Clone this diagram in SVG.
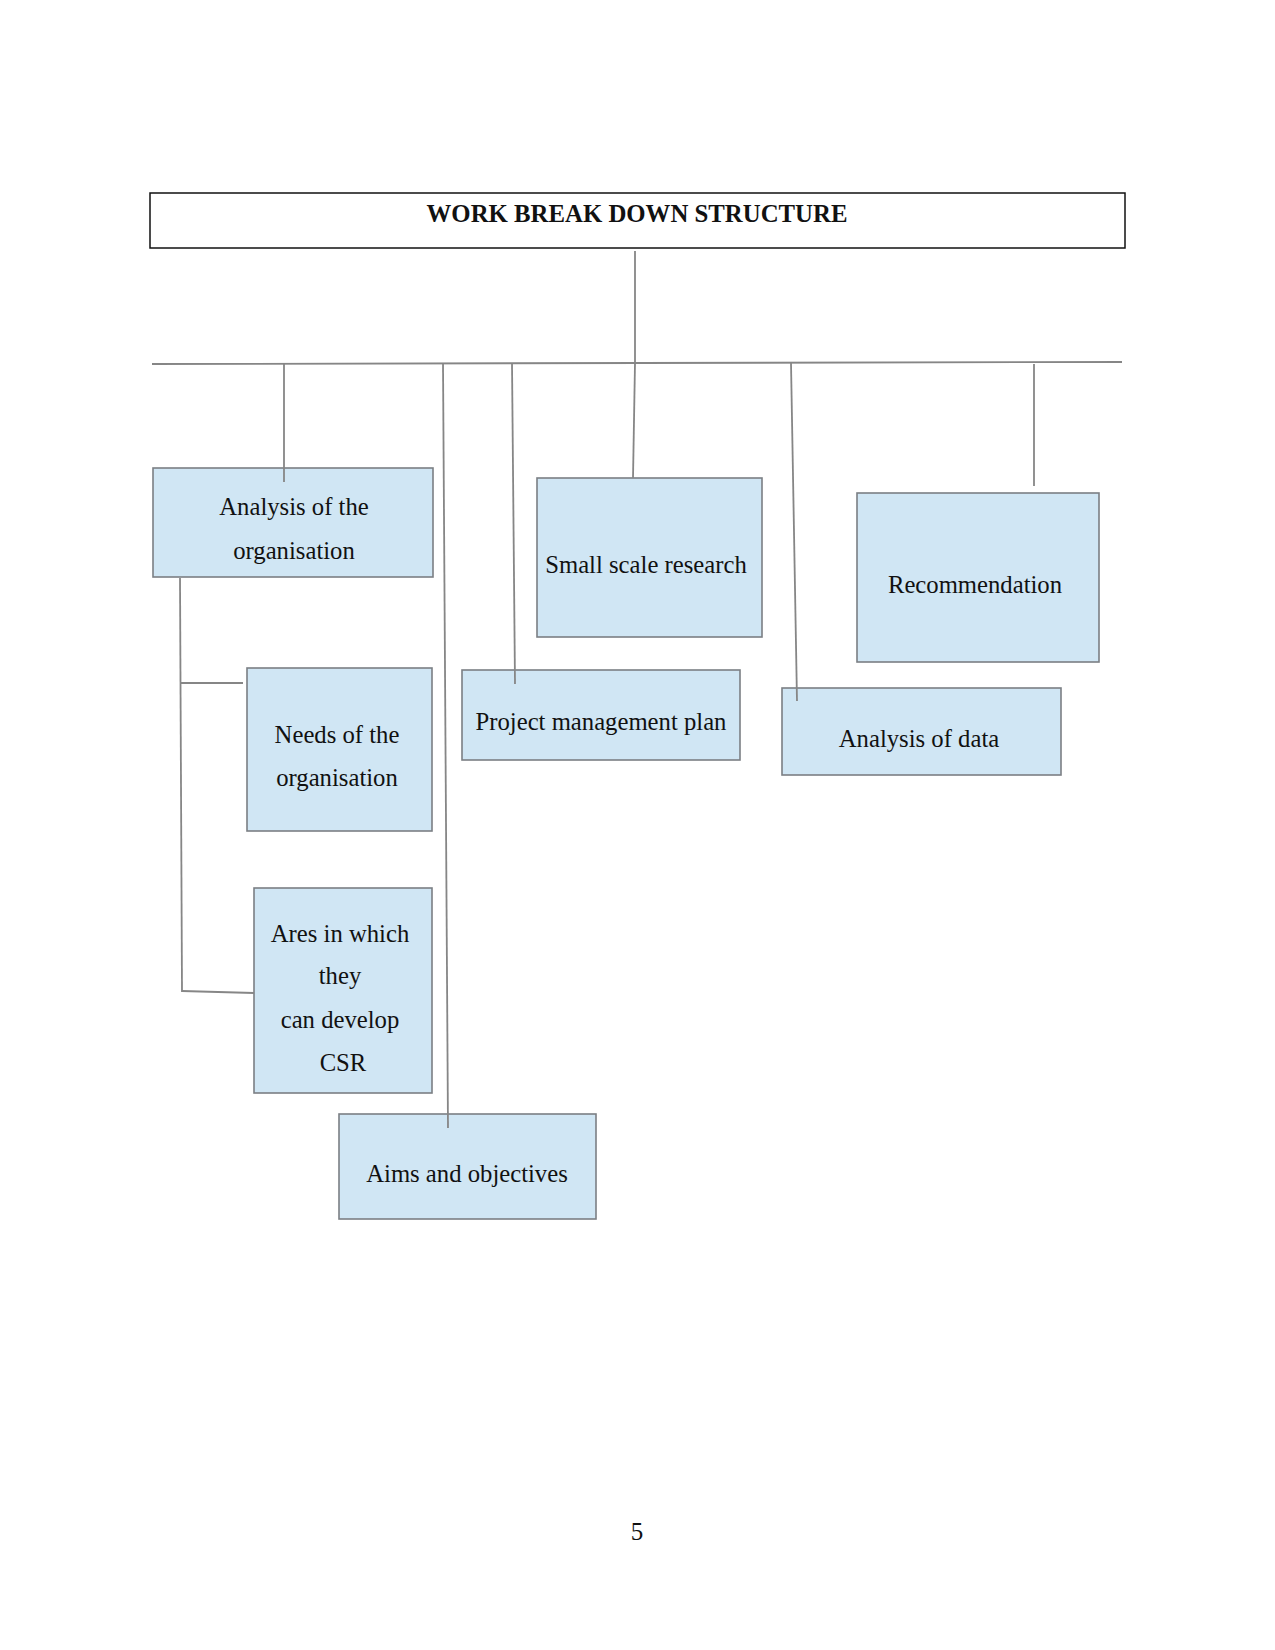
<svg xmlns="http://www.w3.org/2000/svg" width="1275" height="1650" viewBox="0 0 1275 1650">
<style>
.box{fill:#d0e6f4;stroke:#7b7f84;stroke-width:1.6}
.t{font-family:"Liberation Serif","Times New Roman",serif;font-size:24.7px;fill:#111;text-anchor:middle}
.ln{stroke:#868686;stroke-width:1.8;fill:none}
</style>
<rect width="1275" height="1650" fill="#fff"/>
<g id="title">
<rect x="150" y="193" width="975" height="55" fill="#fff" stroke="#111" stroke-width="1.5"/>
<text x="637" y="222" class="t" style="font-weight:bold;font-size:24.8px">WORK BREAK DOWN STRUCTURE</text>
</g>
<g id="analysis-org">
<rect class="box" x="153" y="468" width="280" height="109"/>
<text class="t" x="294" y="515">Analysis of the</text>
<text class="t" x="294" y="559">organisation</text>
</g>
<g id="small-scale">
<rect class="box" x="537" y="478" width="225" height="159"/>
<text class="t" x="646" y="573">Small scale research</text>
</g>
<g id="recommendation">
<rect class="box" x="857" y="493" width="242" height="169"/>
<text class="t" x="975" y="593">Recommendation</text>
</g>
<g id="needs-org">
<rect class="box" x="247" y="668" width="185" height="163"/>
<text class="t" x="337" y="743">Needs of the</text>
<text class="t" x="337" y="786">organisation</text>
</g>
<g id="project-plan">
<rect class="box" x="462" y="670" width="278" height="90"/>
<text class="t" x="601" y="730">Project management plan</text>
</g>
<g id="analysis-data">
<rect class="box" x="782" y="688" width="279" height="87"/>
<text class="t" x="919" y="747">Analysis of data</text>
</g>
<g id="areas-csr">
<rect class="box" x="254" y="888" width="178" height="205"/>
<text class="t" x="340" y="942">Ares in which</text>
<text class="t" x="340" y="984">they</text>
<text class="t" x="340" y="1028">can develop</text>
<text class="t" x="343" y="1071">CSR</text>
</g>
<g id="aims">
<rect class="box" x="339" y="1114" width="257" height="105"/>
<text class="t" x="467" y="1182">Aims and objectives</text>
</g>
<g id="connectors">
<path class="ln" d="M635 251 L635 363"/>
<path class="ln" d="M152 364 L640 363 L1122 362"/>
<path class="ln" d="M284 363 L284 482"/>
<path class="ln" d="M443 363 L448 1128"/>
<path class="ln" d="M512 363 L515 684"/>
<path class="ln" d="M635 363 L633 478"/>
<path class="ln" d="M791 363 L797 701"/>
<path class="ln" d="M1034 364 L1034 486"/>
<path class="ln" d="M180 578 L182 992"/>
<path class="ln" d="M181 683 L243 683"/>
<path class="ln" d="M182 991 L254 993"/>
</g>
<text x="637" y="1540" class="t" style="font-size:25px">5</text>
</svg>
